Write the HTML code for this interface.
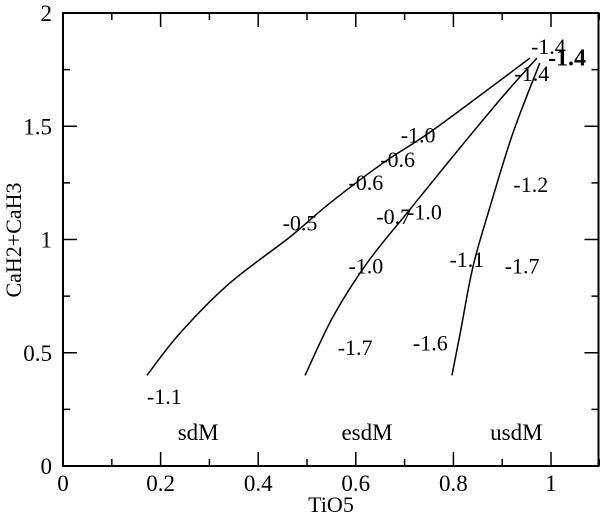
<!DOCTYPE html>
<html><head><meta charset="utf-8"><style>
body{margin:0;background:#fff;}
svg{display:block;font-family:"Liberation Serif",serif;}
</style></head><body>
<svg id="chart" width="600" height="515">
<g id="g"></g>
</svg>
<script>
const xTicks=[0,0.2,0.4,0.6,0.8,1];
const yTicks=[0,0.5,1,1.5,2];
const sdmX=[0.172,0.240,0.342,0.465,0.547,0.656,0.758,0.957];
const sdmY=[0.40,0.587,0.808,1.011,1.161,1.338,1.483,1.801];
const esdmX=[0.496,0.553,0.623,0.705,0.793,0.895,0.971];
const esdmY=[0.40,0.658,0.896,1.117,1.351,1.616,1.801];
const usdmX=[0.797,0.814,0.840,0.875,0.922,0.977];
const usdmY=[0.40,0.587,0.879,1.144,1.470,1.779];
const noteText=["-1.1","-0.5","-0.6","-0.6","-1.0","-1.0","-0.7","-1.0","-1.7","-1.6","-1.1","-1.7","-1.2","-1.4","-1.4","-1.4"];
const noteX=[0.172,0.45,0.585,0.65,0.692,0.585,0.642,0.705,0.563,0.717,0.792,0.905,0.923,0.959,0.994,0.925];
const noteY=[0.305,1.07,1.25,1.35,1.46,0.88,1.1,1.12,0.52,0.54,0.91,0.88,1.24,1.85,1.8,1.73];
const groupText=["sdM","esdM","usdM"];
const groupX=[0.277,0.623,0.929];
const groupY=0.146;
const L=63,R=600,T=13,B=466;
const X0=63,XS=488,Y0=466,YS=226.5;
const sx=v=>X0+v*XS, sy=v=>Y0-v*YS;
const NS="http://www.w3.org/2000/svg";
const g=document.getElementById('g');
function mk(t,a,p){const e=document.createElementNS(NS,t);for(const k in a)e.setAttribute(k,a[k]);(p||g).appendChild(e);return e;}
const frame=mk('rect',{x:L,y:T,width:R-L-1.5,height:B-T,fill:'none',stroke:'#000','stroke-width':2});


for(let i=0;i<=11;i++){const v=i/10,x=sx(v),len=(i%2==0)?14:7;
 const t1=mk('line',{x1:x,y1:B,x2:x,y2:B-len,stroke:'#000','stroke-width':1.5});
 
 
 const t2=mk('line',{x1:x,y1:T,x2:x,y2:T+len,stroke:'#000','stroke-width':1.5});
 
 }
for(let i=0;i<=8;i++){const v=i*0.25,y=sy(v),len=(i%2==0)?14:7;
 const t1=mk('line',{x1:L,y1:y,x2:L+len,y2:y,stroke:'#000','stroke-width':1.5});
 
 
 const t2=mk('line',{x1:R-1.5,y1:y,x2:R-1.5-len,y2:y,stroke:'#000','stroke-width':1.5});
 
 }
xTicks.forEach(v=>{const t=mk('text',{x:sx(v),y:491,'text-anchor':'middle','font-size':23});t.textContent=String(v);
 
 });
yTicks.forEach(v=>{const t=mk('text',{x:52,y:sy(v)+8,'text-anchor':'end','font-size':23});t.textContent=String(v);
 
 });
const xl=mk('text',{x:331,y:512,'text-anchor':'middle','font-size':22});xl.textContent='TiO5';


const yl=mk('text',{x:0,y:0,'text-anchor':'middle','font-size':22,transform:'translate(21,240) rotate(-90)'});yl.textContent='CaH2+CaH3';


function curve(xs,ys,name){
 const P=xs.map((x,i)=>[sx(x),sy(ys[i])]);
 let d='M'+P[0][0]+','+P[0][1];
 for(let i=0;i<P.length-1;i++){const p0=P[Math.max(0,i-1)],p1=P[i],p2=P[i+1],p3=P[Math.min(P.length-1,i+2)];
  const c1=[p1[0]+(p2[0]-p0[0])/6,p1[1]+(p2[1]-p0[1])/6],c2=[p2[0]-(p3[0]-p1[0])/6,p2[1]-(p3[1]-p1[1])/6];
  d+=' C'+c1+' '+c2+' '+p2;}
 const e=mk('path',{d:d,fill:'none',stroke:'#000','stroke-width':1.5});
 
 }
curve(sdmX,sdmY,'sdm-curve');
curve(esdmX,esdmY,'esdm-curve');
curve(usdmX,usdmY,'usdm-curve');
noteText.forEach((s,i)=>{const t=mk('text',{x:sx(noteX[i]),y:sy(noteY[i])+7,'font-size':i==14?24:22,'font-weight':i==14?'bold':'normal'});t.textContent=s;
 
 });
groupText.forEach((s,i)=>{const t=mk('text',{x:sx(groupX[i]),y:sy(groupY)+7,'text-anchor':'middle','font-size':23});t.textContent=s;
 
 });
</script>
</body></html>
